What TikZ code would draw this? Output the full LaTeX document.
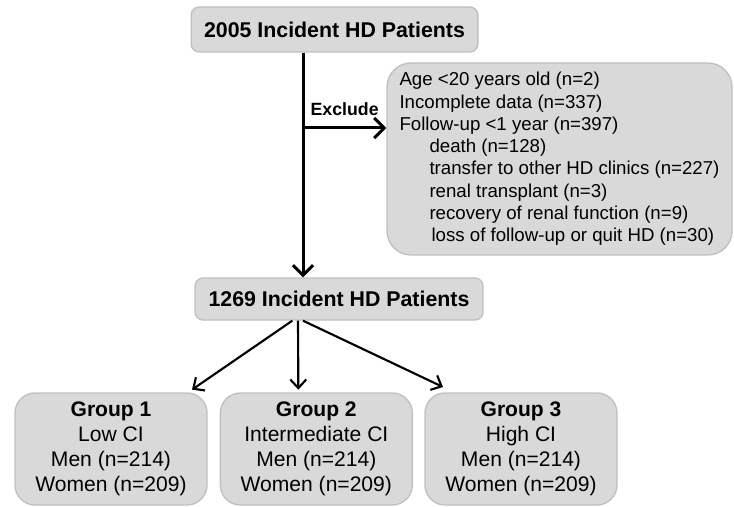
\documentclass[tikz,border=0pt]{standalone}
\usepackage{fontspec}
\setmainfont{Liberation Sans}
\usepackage{tikz}
\usetikzlibrary{positioning}
\usetikzlibrary{arrows.meta}
\definecolor{boxgray}{RGB}{217,217,217}
\definecolor{edgegray}{RGB}{192,192,192}

\begin{document}
\begin{tikzpicture}[x=0.75pt, y=-0.75pt,
    headbox/.style={rectangle, rounded corners=6pt, draw=edgegray,
      fill=boxgray, line width=1pt,
      font=\fontsize{16}{19}\selectfont\bfseries},
    reasonbox/.style={rectangle, rounded corners=18pt, draw=edgegray,
      fill=boxgray, line width=1pt, align=left, minimum width=258.75pt,
      minimum height=144pt, font=\fontsize{14}{16.7}\selectfont},
    groupbox/.style={rectangle, rounded corners=15pt, draw=edgegray,
      fill=boxgray, line width=1pt, align=center, minimum width=144pt,
      minimum height=84pt, font=\fontsize{15.8}{18.75}\selectfont},
    bigarrow/.style={line width=2.25pt,
      -{Straight Barb[length=7.5pt,width=15pt]}},
    smallarrow/.style={line width=1.6pt,
      -{Straight Barb[length=6.5pt,width=12pt]}}, ]
    \useasboundingbox (0,0) rectangle (734,506);
    % Nodes
    \node[headbox, minimum width=215pt, minimum height=33.75pt] (start)
    at (334.5,29.5) {2005 Incident HD Patients};
    \node[reasonbox] (reasons) at (559.5,159) {Age <20 years old (n=2)\\
      Incomplete data (n=337)\\ Follow-up <1 year (n=397)\\
      \hspace*{22.5pt}death (n=128)\\
      \hspace*{22.5pt}transfer to other HD clinics (n=227)\\
      \hspace*{22.5pt}renal transplant (n=3)\\
      \hspace*{22.5pt}recovery of renal function (n=9)\\
      \hspace*{24pt}loss of follow-up or quit HD (n=30)};
    \node[headbox, minimum width=216pt, minimum height=31.5pt] (cohort)
    at (339,299) {1269 Incident HD Patients};
    \node[groupbox] (lowci) at (111,449) {\textbf{Group 1}\\ Low CI\\
      Men (n=214)\\ Women (n=209)};
    \node[groupbox] (intci) [right=9pt of lowci] {\textbf{Group 2}\\
      Intermediate CI\\ Men (n=214)\\ Women (n=209)};
    \node[groupbox] (highci) [right=8.5pt of intci] {\textbf{Group 3}\\
      High CI\\ Men (n=214)\\ Women (n=209)};
    \coordinate (split) at (303,128);
    % Lines
    \draw[bigarrow] (start.south -| split) -- (cohort.north -| split);
    \draw[bigarrow] (split) -- node[above=5pt,
      font=\fontsize{13.3}{16}\selectfont\bfseries] (exclude) {Exclude}
    (split -| reasons.west);
    \draw[smallarrow] ([xshift=-35pt]cohort.south) --
    ([xshift=60.75pt, yshift=2pt]lowci.north);
    \draw[smallarrow] ([xshift=-30.75pt]cohort.south) --
    ([xshift=-13.5pt, yshift=2pt]intci.north);
    \draw[smallarrow] ([xshift=-27pt]cohort.south) --
    ([xshift=-58.5pt, yshift=4pt]highci.north);
  \end{tikzpicture}
\end{document}
